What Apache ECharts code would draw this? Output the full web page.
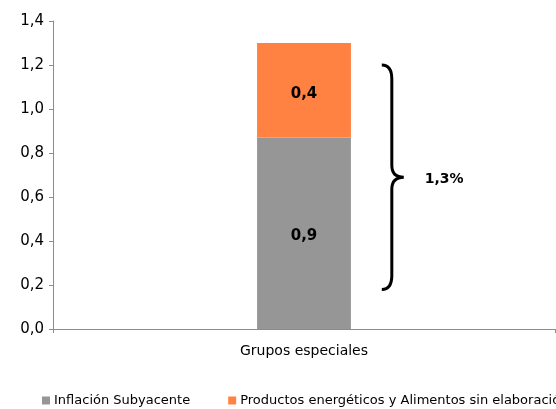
<!DOCTYPE html>
<html>
<head>
<meta charset="utf-8">
<script src="https://cdn.jsdelivr.net/npm/echarts@6/dist/echarts.min.js"></script>
<style>
html,body{margin:0;padding:0;background:#fff;overflow:hidden;}
#chart{width:556px;height:409px;}
</style>
</head>
<body>
<div id="chart"></div>
<script>
var categories = ['Grupos especiales'];
var seriesNames = ['Inflación Subyacente', 'Productos energéticos y Alimentos sin elaboración'];
var subyacente = [0.87];
var energeticos = [0.43];
var yTicks = { min: 0, max: 1.4, interval: 0.2 };
var braceRange = [[0, 0.18, 1.2]];

function fmt(v, d) { return v.toFixed(d).replace('.', ','); }
var total = subyacente[0] + energeticos[0];

var chart = echarts.init(document.getElementById('chart'), null, { renderer: 'canvas' });
var FONT = 'DejaVu Sans';
chart.setOption({
  animation: false,
  textStyle: { fontFamily: FONT },
  grid: { left: 53, right: 1, top: 21, bottom: 80, containLabel: false },
  legend: {
    data: seriesNames,
    left: 37, bottom: -3, width: 1200,
    itemWidth: 8, itemHeight: 8, itemGap: 38,
    icon: 'rect',
    textStyle: { fontFamily: FONT, fontSize: 13, color: '#000', padding: [0, 0, 0, -1] }
  },
  xAxis: {
    type: 'category',
    data: categories,
    axisLine: { lineStyle: { color: '#8c8c8c', width: 1 } },
    axisTick: { show: true, length: 4, lineStyle: { color: '#8c8c8c' } },
    axisLabel: { fontFamily: FONT, fontSize: 14, color: '#000', margin: 15 }
  },
  yAxis: {
    type: 'value',
    min: yTicks.min, max: yTicks.max, interval: yTicks.interval,
    axisLine: { show: true, lineStyle: { color: '#8c8c8c', width: 1 } },
    axisTick: { show: true, length: 4, lineStyle: { color: '#8c8c8c' } },
    splitLine: { show: false },
    axisLabel: { fontFamily: FONT, fontSize: 15, color: '#000', margin: 9, padding: [4, 0, 0, 0],
      formatter: function (v) { return fmt(v, 1); } }
  },
  series: [
    {
      name: seriesNames[0], type: 'bar', stack: 'total', data: subyacente,
      barWidth: '18.7%',
      itemStyle: { color: '#969696' },
      label: { show: true, position: 'inside', fontFamily: FONT, fontSize: 15, fontWeight: 'bold', color: '#000',
        offset: [0, 3],
        formatter: function (p) { return fmt(p.value, 1); } }
    },
    {
      name: seriesNames[1], type: 'bar', stack: 'total', data: energeticos,
      barWidth: '18.7%',
      itemStyle: { color: '#FF8243' },
      label: { show: true, position: 'inside', fontFamily: FONT, fontSize: 15, fontWeight: 'bold', color: '#000',
        offset: [0, 4],
        formatter: function (p) { return fmt(p.value, 1); } }
    },
    {
      name: 'brace', type: 'custom', data: braceRange, z: 5,
      renderItem: function (params, api) {
        var c = api.value(0);
        var lo = api.coord([c, api.value(1)]);
        var hi = api.coord([c, api.value(2)]);
        var band = api.size([1, 0])[0];
        var a = lo[0] + band * 0.155;
        var m = a + 10;
        var t = a + 22;
        var yT = hi[1], yB = lo[1], yM = (yT + yB) / 2;
        var path = 'M' + a + ' ' + yT +
          ' Q' + m + ' ' + yT + ' ' + m + ' ' + (yT + 14) +
          ' L' + m + ' ' + (yM - 12) +
          ' Q' + m + ' ' + yM + ' ' + t + ' ' + yM +
          ' Q' + m + ' ' + yM + ' ' + m + ' ' + (yM + 12) +
          ' L' + m + ' ' + (yB - 14) +
          ' Q' + m + ' ' + yB + ' ' + a + ' ' + yB;
        return {
          type: 'group',
          children: [
            { type: 'path', shape: { pathData: path },
              style: { fill: null, stroke: '#000', lineWidth: 3 } },
            { type: 'text', style: { text: fmt(total, 1) + '%', x: t + 21, y: yM + 2,
              textVerticalAlign: 'middle', verticalAlign: 'middle', font: 'bold 14px ' + FONT, fill: '#000' } }
          ]
        };
      }
    }
  ]
});
</script>
</body>
</html>
